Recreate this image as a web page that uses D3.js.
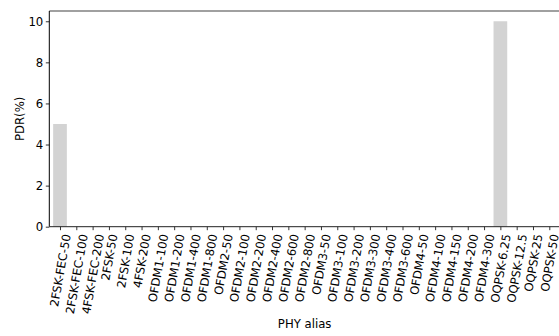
<!DOCTYPE html>
<html><head><meta charset="utf-8">
<script src="https://cdn.jsdelivr.net/npm/d3@7"></script>
<style>body{margin:0;background:#fff}svg{display:block}text{font-family:"DejaVu Sans",sans-serif}</style>
</head><body>
<svg id="c" width="559" height="336"></svg>
<script>
const categories = ["2FSK-FEC-50","2FSK-FEC-100","4FSK-FEC-200","2FSK-50","2FSK-100","4FSK-200",
"OFDM1-100","OFDM1-200","OFDM1-400","OFDM1-800","OFDM2-50","OFDM2-100","OFDM2-200","OFDM2-400",
"OFDM2-600","OFDM2-800","OFDM3-50","OFDM3-100","OFDM3-200","OFDM3-300","OFDM3-400","OFDM3-600",
"OFDM4-50","OFDM4-100","OFDM4-150","OFDM4-200","OFDM4-300","OQPSK-6.25","OQPSK-12.5","OQPSK-25","OQPSK-50"];
const pdrValues = [5,0,0,0,0,0,0,0,0,0,0,0,0,0,0,0,0,0,0,0,0,0,0,0,0,0,0,10,0,0,0];
const yTicks = [0,2,4,6,8,10];
const xLabel = "PHY alias";
const yLabel = "PDR(%)";

const svg = d3.select("#c");
const L = 49.3, R = 560, T = 11, B = 226.7;
const n = categories.length;
const x = d3.scaleLinear().domain([-0.656, n - 1 + 0.656]).range([L, R]);
const y = d3.scaleLinear().domain([0, 10.5]).range([B, T]);
const bw = 0.84;
const fs = 11.7;
const theta = 80 * Math.PI / 180;

// bars
svg.append("g").selectAll("rect").data(pdrValues).join("rect")
  .attr("x", (d,i) => x(i - bw/2)).attr("width", x(bw) - x(0))
  .attr("y", d => y(d)).attr("height", d => y(0) - y(d))
  .attr("fill", "#d3d3d3");

// y axis
const yAxis = d3.axisLeft(y).tickValues(yTicks).tickSize(3.5).tickPadding(2.5).tickFormat(d3.format("d"));
const gy = svg.append("g").attr("transform", `translate(${L},0)`).call(yAxis);
gy.select(".domain").remove();
gy.selectAll("text").attr("font-size", fs).attr("font-family", "DejaVu Sans").attr("fill", "#000");
gy.selectAll("line").attr("stroke", "#000").attr("stroke-width", 0.8);

// x axis ticks
const xAxis = d3.axisBottom(x).tickValues(d3.range(n)).tickSize(3.5).tickFormat(i => categories[i]);
const gx = svg.append("g").attr("transform", `translate(0,${B})`).call(xAxis);
gx.select(".domain").remove();
gx.selectAll("line").attr("stroke", "#000").attr("stroke-width", 0.8);
gx.selectAll(".tick text").each(function() {
  const t = d3.select(this);
  t.attr("font-size", fs).attr("font-family", "DejaVu Sans").attr("fill", "#000")
   .attr("text-anchor", "end").attr("dominant-baseline", "central").attr("dy", null).attr("y", null);
  const len = this.getComputedTextLength();
  const h = fs * 0.95;
  const ax = Math.cos(theta) * len / 2;
  const ay = 3.5 + 2.5 + Math.cos(theta) * h / 2 + 0.5;
  t.attr("transform", `translate(${ax},${ay}) rotate(-80)`);
});

// spines
svg.append("line").attr("x1", L).attr("x2", R).attr("y1", T).attr("y2", T).attr("stroke", "#808080").attr("stroke-width", 1.5);
svg.append("line").attr("x1", L).attr("x2", L).attr("y1", T).attr("y2", B).attr("stroke", "#000").attr("stroke-width", 1);
svg.append("line").attr("x1", L).attr("x2", R).attr("y1", B).attr("y2", B).attr("stroke", "#222").attr("stroke-width", 1);

// labels
svg.append("text").attr("x", (L + R) / 2).attr("y", 328).attr("text-anchor", "middle")
  .attr("font-size", fs).attr("fill", "#000").text(xLabel);
svg.append("text").attr("transform", `translate(24,${(T + B) / 2}) rotate(-90)`).attr("text-anchor", "middle")
  .attr("font-size", fs).attr("fill", "#000").text(yLabel);
</script>
</body></html>
